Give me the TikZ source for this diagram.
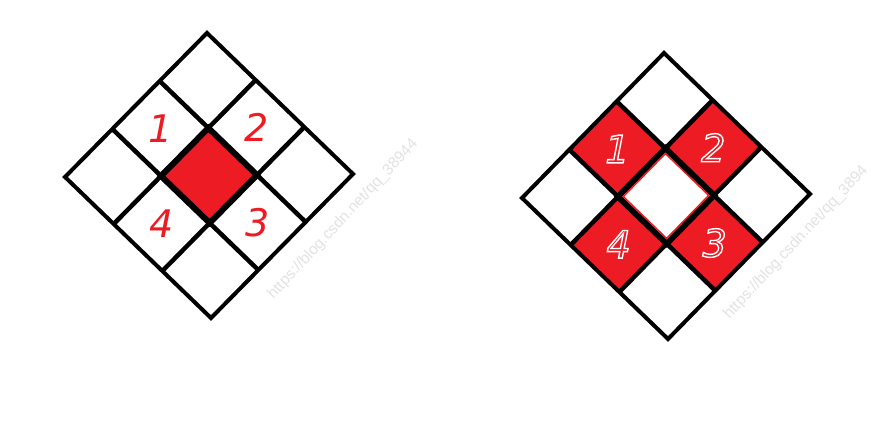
\documentclass[tikz,border=0pt]{standalone}
\usepackage{fontspec}
\newfontfamily\handfont{DejaVu Sans}
\newfontfamily\wmfont{Liberation Sans}
\definecolor{pred}{HTML}{ED1C24}
\tikzset{
  outerline/.style={line width=4pt, line join=miter},
  innerline/.style={line width=4.5pt, line cap=butt},
  centerline/.style={line width=6pt, line join=miter},
  digit/.style={font=\handfont\fontsize{38}{38}\selectfont\itshape, inner sep=0pt},
  watermark/.style={font=\wmfont\fontsize{15.5}{15.5}\selectfont, text=black!11, rotate=47, anchor=south west, inner sep=0pt},
}
% red digit with a thin white outline (fill, then stroke in white)
\newcommand\outl[1]{\special{pdf:code 2 Tr 1 1 1 RG 1.4 w}#1\special{pdf:code 0 Tr}}
\begin{document}
\begin{tikzpicture}[x=1pt,y=1pt]
\useasboundingbox (0,0) rectangle (886,-423);
\fill[white] (0,0) rectangle (886,-423);

% watermarks
\node[watermark] (wm1) at (276,-302) {https://blog.csdn.net/qq\_38944};
\node[watermark] (wm2) at (732,-322) {https://blog.csdn.net/qq\_3894};

% left diamond
\begin{scope}[shift={(207,-33)}, x={(48.67pt,-47pt)}, y={(-47.33pt,-48pt)}]
  \fill[pred] (1,1)--(2,1)--(2,2)--(1,2)--cycle;
  \foreach \k in {1,2}{
    \draw[innerline] (\k,0)--(\k,3);
    \draw[innerline] (0,\k)--(3,\k);
  }
  \draw[outerline] (0,0)--(3,0)--(3,3)--(0,3)--cycle;
  \draw[centerline] (1,1)--(2,1)--(2,2)--(1,2)--cycle;
  \node[digit, text=pred] (La) at (0.5,1.5) {1};
  \node[digit, text=pred] (Lb) at (1.5,0.5) {2};
  \node[digit, text=pred] (Lc) at (2.5,1.5) {3};
  \node[digit, text=pred] (Ld) at (1.5,2.5) {4};
\end{scope}

% right diamond
\begin{scope}[shift={(664,-53)}, x={(48.67pt,-47pt)}, y={(-47.33pt,-48.33pt)}]
  \fill[pred] (0,1)--(1,1)--(1,2)--(0,2)--cycle;
  \fill[pred] (1,0)--(2,0)--(2,1)--(1,1)--cycle;
  \fill[pred] (2,1)--(3,1)--(3,2)--(2,2)--cycle;
  \fill[pred] (1,2)--(2,2)--(2,3)--(1,3)--cycle;
  \foreach \k in {1,2}{
    \draw[innerline] (\k,0)--(\k,3);
    \draw[innerline] (0,\k)--(3,\k);
  }
  \draw[outerline] (0,0)--(3,0)--(3,3)--(0,3)--cycle;
  \draw[centerline] (1,1)--(2,1)--(2,2)--(1,2)--cycle;
  \draw[pred, line width=1.5pt] (1.055,1.055)--(1.945,1.055)--(1.945,1.945)--(1.055,1.945)--cycle;
  \node[digit, text=pred] (Ra) at (0.5,1.5) {\outl{1}};
  \node[digit, text=pred] (Rb) at (1.5,0.5) {\outl{2}};
  \node[digit, text=pred] (Rc) at (2.5,1.5) {\outl{3}};
  \node[digit, text=pred] (Rd) at (1.5,2.5) {\outl{4}};
\end{scope}
\end{tikzpicture}
\end{document}
